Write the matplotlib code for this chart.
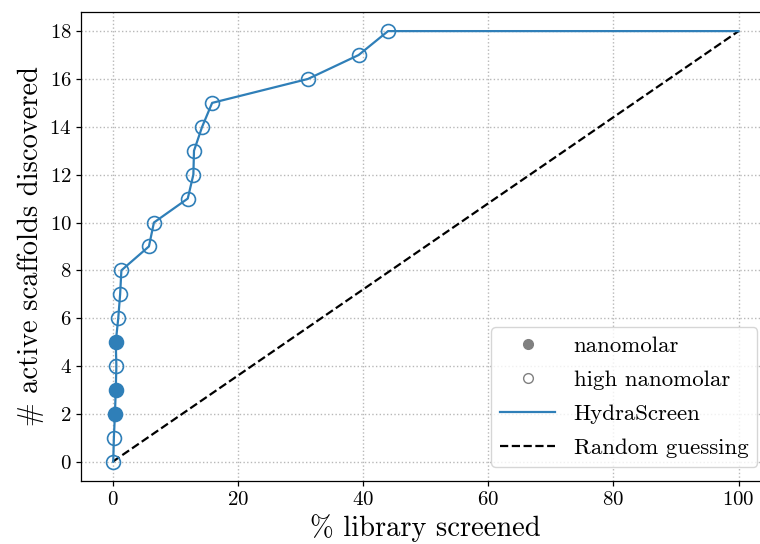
import numpy as np
import matplotlib
matplotlib.use("Agg")
import matplotlib.pyplot as plt
from matplotlib.lines import Line2D

plt.rcParams['font.family'] = 'serif'
plt.rcParams['font.serif'] = ['cmr10']
plt.rcParams['mathtext.fontset'] = 'cm'
plt.rcParams['axes.formatter.use_mathtext'] = True

# % library screened at which each new active scaffold is found
pct_screened = [0.1, 0.2, 0.37, 0.5, 0.6, 0.5, 0.9, 1.2, 1.4, 5.8, 6.6, 12.0, 12.9, 13.0, 14.3, 15.9, 31.2, 39.3, 44.0]
n_found = list(range(19))
# True = nanomolar (filled), False = high nanomolar (open)
nanomolar = [False, False, True, True, False, True, False, False, False, False,
             False, False, False, False, False, False, False, False, False]
end_x = 100
random_x = [0, 100]
random_y = [0, 18]

blue = '#2f7fb8'
fig, ax = plt.subplots(figsize=(7.6, 5.44), dpi=100)

ax.plot(pct_screened + [end_x], n_found + [n_found[-1]], color=blue, lw=1.6, zorder=3)
for x, y, f in zip(pct_screened, n_found, nanomolar):
    ax.plot(x, y, 'o', ms=10, mec=blue, mew=1.2,
            mfc=blue if f else 'none', zorder=4)
ax.plot(random_x, random_y, 'k--', lw=1.6, zorder=2)

# right edge of the axes falls just outside the image, as in the original
ax.set_xlim(-5, 105)
ax.set_ylim(-0.8, 18.8)
ax.set_yticks(range(0, 19, 2))
ax.set_xticks(range(0, 101, 20))
ax.grid(True, ls=':', color='#b8b8b8', lw=1)
for s in ax.spines.values():
    s.set_linewidth(0.9)
ax.tick_params(labelsize=15, width=0.9)
ax.set_xlabel('% library screened', fontsize=20.5)
ax.set_ylabel('# active scaffolds discovered', fontsize=20.5)

handles = [
    Line2D([], [], marker='o', ls='none', color='gray', ms=7),
    Line2D([], [], marker='o', ls='none', mec='gray', mfc='none', ms=7),
    Line2D([], [], color=blue, lw=1.6),
    Line2D([], [], color='k', ls='--', lw=1.6),
]
ax.legend(handles, ['nanomolar', 'high nanomolar', 'HydraScreen', 'Random guessing'],
          loc='lower right', fontsize=16.5, bbox_to_anchor=(0.982, 0.03),
          borderaxespad=0, labelspacing=0.6, handlelength=2.4)

fig.subplots_adjust(left=0.107, right=1.013, top=0.978, bottom=0.116)
fig.savefig('out.png')
